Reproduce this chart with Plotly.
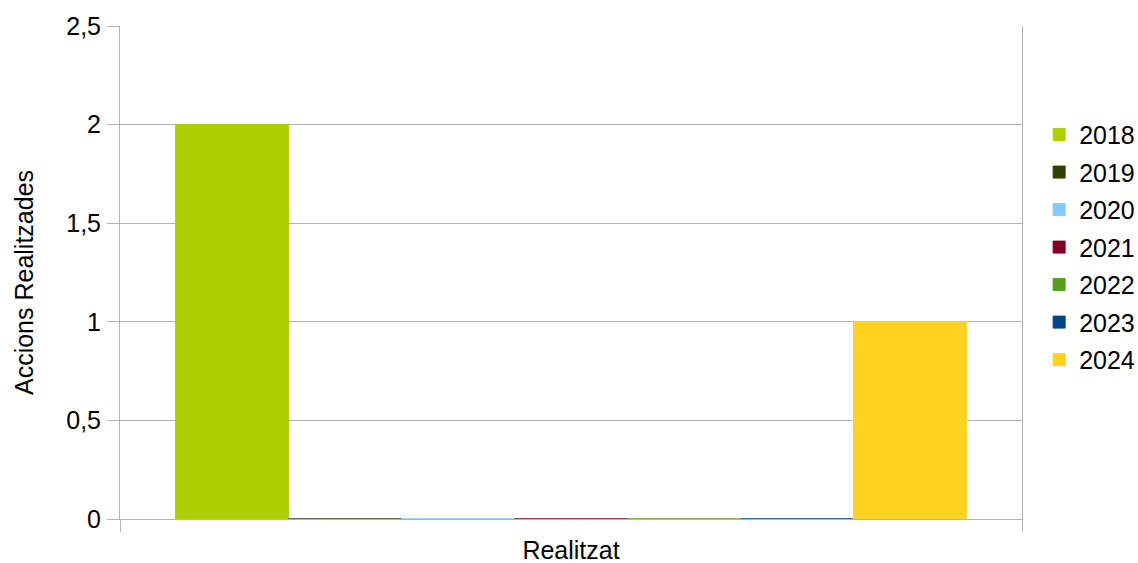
import plotly.graph_objects as go

categories = ["Realitzat"]
years = ["2018", "2019", "2020", "2021", "2022", "2023", "2024"]
values = [[2], [0], [0], [0], [0], [0], [1]]
colors = ["#aecf00", "#314004", "#83caff", "#7e0021", "#579d1c", "#004586", "#ffd320"]
y_title = "Accions Realitzades"

fig = go.Figure()
for y, v, c in zip(years, values, colors):
    fig.add_trace(go.Bar(
        x=categories, y=v, name=y, legendgroup=y,
        marker=dict(color=c, line=dict(color=c, width=1)),
    ))

font = "Liberation Sans, Arial, sans-serif"
fig.update_layout(
    width=1138, height=563,
    margin=dict(l=120, r=116, t=26, b=44, autoexpand=False),
    paper_bgcolor="white", plot_bgcolor="white",
    barmode="group", bargap=0.123, bargroupgap=0,
    font=dict(family=font, size=25, color="black"),
    legend=dict(x=1.019, y=0.551, xanchor="left", yanchor="middle",
                font=dict(size=25), tracegroupgap=2, itemwidth=30),
    xaxis=dict(showline=True, linecolor="#b3b3b3", linewidth=1,
               ticks="outside", tickson="boundaries", ticklen=12,
               tickcolor="#b3b3b3", automargin=False,
               ticklabelstandoff=9),
    yaxis=dict(range=[0, 2.5], dtick=0.5, showgrid=True, gridcolor="#b3b3b3",
               showline=True, linecolor="#b3b3b3", mirror=True,
               ticks="outside", ticklen=12, tickcolor="#b3b3b3",
               tickformat=".1~f", zeroline=False, automargin=False,
               ticklabelstandoff=1),
    annotations=[dict(text=y_title, textangle=-90, xref="paper", yref="paper",
                      x=-0.1064, y=0.4787, xanchor="center", yanchor="middle",
                      showarrow=False, font=dict(size=25))],
    separators=", ",
)
fig.write_html("out.html", config={"displayModeBar": False},
               post_script="document.body.style.margin='0';document.body.style.overflow='hidden';")
